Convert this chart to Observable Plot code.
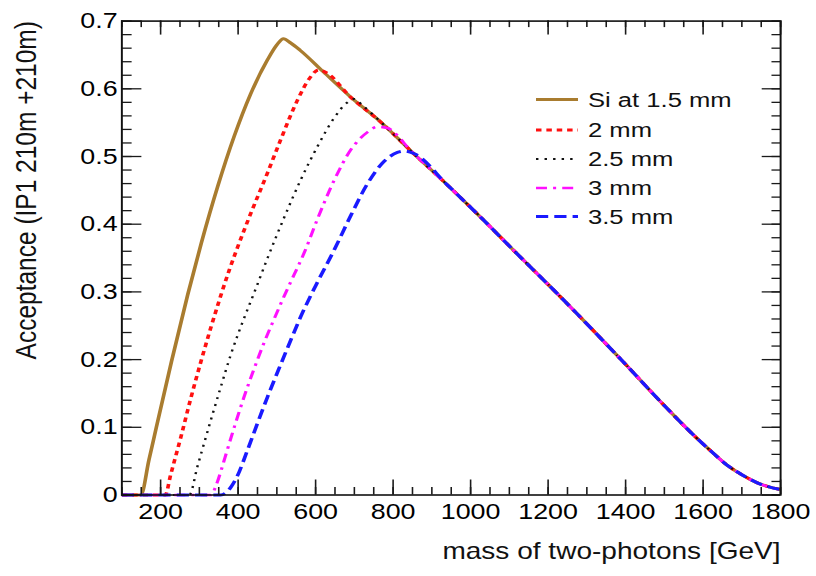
<!DOCTYPE html>
<html>
<head>
<meta charset="utf-8">
<script src="https://cdn.jsdelivr.net/npm/d3@7"></script>
<script src="https://cdn.jsdelivr.net/npm/@observablehq/plot@0.6"></script>
<style>
html, body { margin: 0; padding: 0; background: #fff; }
#chart { width: 816px; height: 576px; overflow: hidden; }
</style>
</head>
<body>
<div id="chart"></div>
<script>
// ---------------- data ----------------
const seriesNames = ["Si at 1.5 mm", "2 mm", "2.5 mm", "3 mm", "3.5 mm"];

// common falling part shared by all cut distances
const tailMass = [560, 620, 690, 770, 850, 940, 1030, 1110, 1240, 1340, 1400, 1490, 1580, 1620, 1660, 1700, 1740, 1770, 1800];
const tailAcc  = [0.657, 0.625, 0.588, 0.550, 0.506, 0.458, 0.408, 0.362, 0.288, 0.229, 0.193, 0.138, 0.086, 0.065, 0.045, 0.030, 0.018, 0.012, 0.008];

// rising parts, up to where each curve joins the common part
const si15Mass = [100, 149, 170, 189, 228, 270, 305, 347, 390, 432, 476, 500, 517, 535];
const si15Acc  = [0, 0, 0.052, 0.1, 0.197, 0.296, 0.372, 0.455, 0.53, 0.592, 0.643, 0.665, 0.674, 0.668];

const mm2Mass = [100, 212, 226, 252, 278, 304, 329, 355, 377, 398, 432, 476, 510, 553, 585, 608, 630];
const mm2Acc  = [0, 0, 0.03, 0.085, 0.143, 0.197, 0.246, 0.294, 0.332, 0.365, 0.415, 0.476, 0.525, 0.583, 0.616, 0.628, 0.623];

const mm25Mass = [100, 274, 295, 310, 335, 355, 381, 416, 441, 476, 519, 562, 605, 648, 680, 700, 720];
const mm25Acc  = [0, 0, 0.042, 0.072, 0.121, 0.159, 0.207, 0.262, 0.298, 0.35, 0.41, 0.466, 0.515, 0.557, 0.579, 0.585, 0.576];

const mm3Mass = [100, 330, 343, 356, 366, 390, 416, 441, 467, 493, 519, 545, 570, 605, 648, 691, 734, 760, 785];
const mm3Acc  = [0, 0, 0.014, 0.036, 0.055, 0.1, 0.146, 0.186, 0.225, 0.26, 0.294, 0.326, 0.357, 0.408, 0.465, 0.51, 0.536, 0.544, 0.542];

const mm35Mass = [100, 355, 370, 383, 398, 424, 450, 476, 510, 536, 562, 600, 648, 691, 734, 777, 811, 830, 855];
const mm35Acc  = [0, 0, 0.004, 0.013, 0.028, 0.066, 0.106, 0.145, 0.193, 0.229, 0.264, 0.309, 0.362, 0.413, 0.46, 0.493, 0.506, 0.508, 0.504];

const xMajorTicks = [200, 400, 600, 800, 1000, 1200, 1400, 1600, 1800];
const yMajorTicks = [0, 0.1, 0.2, 0.3, 0.4, 0.5, 0.6, 0.7];
const xMinorTicks = d3.range(100, 1801, 50);
const yMinorTicks = d3.range(0, 0.7001, 0.02);

const xTitle = "mass of two-photons [GeV]";
const yTitle = "Acceptance (IP1 210m +210m)";

// ---------------- styles ----------------
const styles = [
  {stroke: "#a97c2f", strokeWidth: 3,   dash: null},
  {stroke: "#ff1010", strokeWidth: 3,   dash: "4.5,4"},
  {stroke: "#111111", strokeWidth: 2,   dash: "2,5"},
  {stroke: "#ff10ff", strokeWidth: 2.6, dash: "9,5,2.5,5"},
  {stroke: "#1a1aff", strokeWidth: 3,   dash: "10,5"}
];

// ---------------- build tables ----------------
const rising = [[si15Mass, si15Acc], [mm2Mass, mm2Acc], [mm25Mass, mm25Acc], [mm3Mass, mm3Acc], [mm35Mass, mm35Acc]];
const rows = [];
rising.forEach(([ms, as], i) => {
  ms.forEach((m, j) => rows.push({series: seriesNames[i], mass: m, acc: as[j]}));
  const last = ms[ms.length - 1];
  tailMass.forEach((m, j) => { if (m > last + 20) rows.push({series: seriesNames[i], mass: m, acc: tailAcc[j]}); });
});

// ---------------- layout (drawn narrow, then stretched horizontally) ----------------
const S = 816 / 669;          // horizontal stretch of the reference
const W = 669, H = 576;
const mL = 121.25 / S, mR = W - 780 / S, mT = 20.6, mB = H - 494.5;
const innerW = W - mL - mR, innerH = H - mT - mB;
const tickStyle = {stroke: "#1a1a1a", strokeWidth: 1.3};

const lineMarks = seriesNames.map((name, i) => Plot.line(rows.filter(d => d.series === name), {
  x: "mass", y: "acc", curve: "monotone-x",
  stroke: styles[i].stroke, strokeWidth: styles[i].strokeWidth,
  strokeDasharray: styles[i].dash, strokeLinecap: "butt", strokeLinejoin: "round"
}));

const svg = Plot.plot({
  width: W, height: H,
  marginLeft: mL, marginRight: mR, marginTop: mT, marginBottom: mB,
  style: {fontFamily: "'Liberation Sans', Arial, Helvetica, sans-serif", fontSize: "22px", background: "white", color: "black", overflow: "visible"},
  x: {domain: [100, 1800], label: null},
  y: {domain: [0, 0.7], label: null},
  marks: [
    ...lineMarks,
    // ticks (ROOT style, inside the frame, on all four sides)
    Plot.tickX(xMinorTicks, {x: d => d, insetTop: innerH - 7.5, ...tickStyle}),
    Plot.tickX(xMinorTicks, {x: d => d, insetBottom: innerH - 6.5, ...tickStyle}),
    Plot.tickX(xMajorTicks, {x: d => d, insetTop: innerH - 15, ...tickStyle}),
    Plot.tickX(xMajorTicks, {x: d => d, insetBottom: innerH - 14, ...tickStyle}),
    Plot.tickY(yMinorTicks, {y: d => d, insetRight: innerW - 8.5, ...tickStyle}),
    Plot.tickY(yMinorTicks, {y: d => d, insetLeft: innerW - 7, ...tickStyle}),
    Plot.tickY(yMajorTicks, {y: d => d, insetRight: innerW - 16.5, ...tickStyle}),
    Plot.tickY(yMajorTicks, {y: d => d, insetLeft: innerW - 15, ...tickStyle}),
    Plot.frame({stroke: "#111", strokeWidth: 1.6}),
    Plot.axisX({ticks: xMajorTicks, tickSize: 0, tickPadding: 8, tickFormat: d => String(d), fontSize: 22, label: null}),
    Plot.axisY({ticks: yMajorTicks, tickSize: 0, tickPadding: 3.5, tickFormat: d => String(d), fontSize: 22, label: null}),
    Plot.text([xTitle], {frameAnchor: "bottom-right", text: d => d, textAnchor: "end", dy: 64, fontSize: 23, fill: "#111"}),
    Plot.text([yTitle], {frameAnchor: "top-left", text: d => d, textAnchor: "end", rotate: -90, dx: 11.5 - mL, fontSize: 24.5, fill: "#111"})
  ]
});

// stretch horizontally like the reference
svg.setAttribute("width", 816);
svg.setAttribute("height", 576);
svg.setAttribute("viewBox", `0 0 ${W} ${H}`);
svg.setAttribute("preserveAspectRatio", "none");
svg.style.width = "816px";
svg.style.height = "576px";
svg.style.maxWidth = "none";

// legend (inside the frame, upper right)
const legX1 = 536 / S, legX2 = 578 / S, legTX = 588 / S;
const legY = [99.5, 130, 159, 188, 216.5];
const lg = d3.select(svg).append("g").attr("class", "legend").attr("text-anchor", "start");
seriesNames.forEach((name, i) => {
  lg.append("line")
    .attr("x1", legX1).attr("x2", legX2).attr("y1", legY[i]).attr("y2", legY[i])
    .attr("stroke", styles[i].stroke).attr("stroke-width", styles[i].strokeWidth)
    .attr("stroke-dasharray", styles[i].dash);
  lg.append("text")
    .attr("x", legTX).attr("y", legY[i]).attr("dy", "0.35em")
    .attr("text-anchor", "start")
    .attr("font-size", 21).attr("fill", "#111")
    .text(name);
});

document.getElementById("chart").appendChild(svg);
</script>
</body>
</html>
